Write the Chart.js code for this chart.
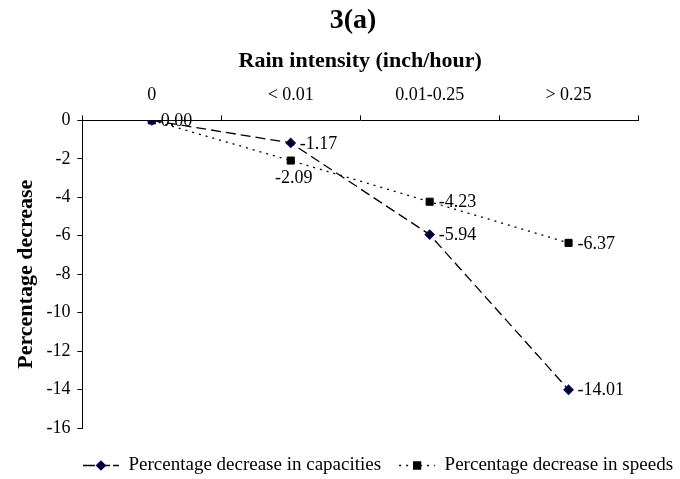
<!DOCTYPE html>
<html>
<head>
<meta charset="utf-8">
<script src="https://cdn.jsdelivr.net/npm/chart.js@4"></script>
<style>
  html, body { margin: 0; padding: 0; background: #fff; }
  #wrap { width: 680px; height: 479px; }
</style>
</head>
<body>
<div id="wrap"><canvas id="chart" width="680" height="479"></canvas></div>
<script>
// rain intensity classes
const categories = ["0", "< 0.01", "0.01-0.25", "> 0.25"]
const capacityDecrease = [0.00, -1.17, -5.94, -14.01]
const speedDecrease = [0.00, -2.09, -4.23, -6.37]
const yTicks = [0, -2, -4, -6, -8, -10, -12, -14, -16]

const serif = "'Liberation Serif', 'Times New Roman', serif"

// where the value label sits relative to its point
const capLabelPos = ["right", "right", "right", "right"]
const speedLabelPos = ["none", "below", "right", "right"]

const valueLabels = {
  id: "valueLabels",
  afterDatasetsDraw(chart) {
    const ctx = chart.ctx
    ctx.save()
    ctx.font = "18px " + serif
    ctx.fillStyle = "#000"
    chart.data.datasets.forEach((ds, i) => {
      const meta = chart.getDatasetMeta(i)
      meta.data.forEach((pt, j) => {
        const pos = ds.labelPos[j]
        if (pos === "none") return
        const txt = ds.data[j].toFixed(2)
        if (pos === "below") {
          ctx.textAlign = "center"
          ctx.textBaseline = "top"
          ctx.fillText(txt, pt.x + 3, pt.y + 9)
        } else {
          ctx.textAlign = "left"
          ctx.textBaseline = "middle"
          ctx.fillText(txt, pt.x + 9, pt.y + 1)
        }
      })
    })
    ctx.restore()
  }
}

function marker(ctx, style, x, y, r, fill, stroke) {
  ctx.save()
  ctx.beginPath()
  if (style === "rectRot") {
    ctx.moveTo(x - r, y)
    ctx.lineTo(x, y - r)
    ctx.lineTo(x + r, y)
    ctx.lineTo(x, y + r)
    ctx.closePath()
  } else {
    const s = r * Math.SQRT1_2
    ctx.rect(x - s, y - s, 2 * s, 2 * s)
  }
  ctx.fillStyle = fill
  ctx.fill()
  ctx.strokeStyle = stroke
  ctx.lineWidth = 1.2
  ctx.stroke()
  ctx.restore()
}

// move the legend row right/down like the original, move the title over the plot,
// and put the markers on the legend samples
const layoutTweak = {
  id: "layoutTweak",
  afterLayout(chart) {
    const lg = chart.legend
    if (lg) {
      // hit boxes get rebuilt from these in the legend's afterUpdate
      lg.left += 58
      lg.right += 58
      lg.top += 10
      lg.bottom += 10
    }
    const tb = chart.titleBlock
    if (tb) {
      tb.left += 33
      tb.right += 33
    }
  },
  afterDraw(chart) {
    const lg = chart.legend
    if (!lg || !lg.legendHitBoxes) return
    const ctx = chart.ctx
    const boxW = lg.options.labels.boxWidth
    const fs = lg.options.labels.font.size
    lg.legendHitBoxes.forEach((hb, i) => {
      const ds = chart.data.datasets[i]
      marker(ctx, ds.pointStyle, hb.left + boxW / 2, hb.top + fs / 2,
        ds.pointRadius, ds.pointBackgroundColor, ds.pointBorderColor)
    })
  }
}

new Chart(document.getElementById("chart"), {
  type: "line",
  data: {
    labels: categories,
    datasets: [
      {
        label: "Percentage decrease in capacities",
        data: capacityDecrease,
        labelPos: capLabelPos,
        borderColor: "#000",
        backgroundColor: "#000",
        borderWidth: 1.3,
        borderDash: [10, 5],
        pointStyle: "rectRot",
        pointRadius: 4.5,
        pointBackgroundColor: "#000",
        pointBorderColor: "#000080",
        pointBorderWidth: 1.3,
        tension: 0
      },
      {
        label: "Percentage decrease in speeds",
        data: speedDecrease,
        labelPos: speedLabelPos,
        borderColor: "#000",
        backgroundColor: "#000",
        borderWidth: 1.3,
        borderDash: [2, 5],
        pointStyle: "rect",
        pointRadius: 5,
        pointBackgroundColor: "#000",
        pointBorderColor: "#000",
        pointBorderWidth: 1,
        tension: 0
      }
    ]
  },
  options: {
    responsive: false,
    animation: false,
    layout: {padding: {left: 2, right: 42, top: 0, bottom: 4}},
    plugins: {
      title: {
        display: true,
        text: "3(a)",
        color: "#000",
        font: {family: serif, size: 28, weight: "bold"},
        padding: {top: 4, bottom: 0}
      },
      legend: {
        position: "bottom",
        labels: {
          color: "#000",
          font: {family: serif, size: 19},
          boxWidth: 36,
          boxHeight: 0,
          padding: 18
        }
      },
      tooltip: {enabled: false}
    },
    scales: {
      x: {
        position: "top",
        offset: true,
        grid: {display: true, drawOnChartArea: false, tickLength: 5, color: "#000", offset: true},
        border: {display: true, color: "#000", width: 1},
        ticks: {color: "#000", font: {family: serif, size: 18, lineHeight: 0.8}, padding: 13, maxRotation: 0},
        title: {
          display: true,
          text: "Rain intensity (inch/hour)",
          color: "#000",
          font: {family: serif, size: 22, weight: "bold"},
          padding: {top: 11, bottom: 0}
        }
      },
      y: {
        min: -16,
        max: 0,
        afterBuildTicks: s => { s.ticks = yTicks.map(v => ({value: v})) },
        grid: {display: true, drawOnChartArea: false, tickLength: 5, color: "#000"},
        border: {display: true, color: "#000", width: 1},
        ticks: {color: "#000", font: {family: serif, size: 18}, padding: 7},
        title: {
          display: true,
          text: "Percentage decrease",
          color: "#000",
          font: {family: serif, size: 22, weight: "bold"},
          padding: {top: 11, bottom: 0}
        }
      }
    }
  },
  plugins: [valueLabels, layoutTweak]
})
</script>
</body>
</html>
